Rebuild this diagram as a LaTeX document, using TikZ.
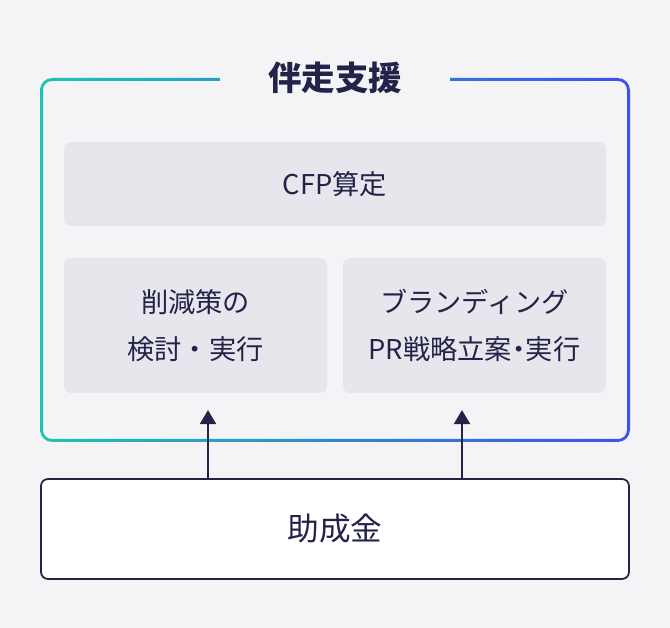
\documentclass[tikz,border=0pt]{standalone}
\usepackage{fontspec}
\setmainfont{Noto Sans CJK JP}
\usetikzlibrary{positioning,arrows.meta}
\definecolor{pagebg}{HTML}{F4F4F6}
\definecolor{boxbg}{HTML}{E6E6EC}
\definecolor{ink}{HTML}{23234A}
\definecolor{tealc}{HTML}{1DC3B0}
\definecolor{bluec}{HTML}{3F4FF0}
\tikzset{
  stage/.style={fill=boxbg, rounded corners=4pt, text=ink, font=\fontsize{15.5}{27}\selectfont, align=center},
  fund/.style={draw=ink, line width=1pt, fill=white, rounded corners=4pt, text=ink, font=\fontsize{18}{20}\selectfont},
  up/.style={-{Triangle[length=8pt,width=9pt]}, ink, line width=1.5pt}
}
\begin{document}
\begin{tikzpicture}[x=0.02cm, y=-0.02cm]
    \fill[pagebg] (0,0) rectangle (670,628);

    % gradient frame
    \shade[left color=tealc, right color=bluec, even odd rule]
        [rounded corners=7pt] (40,78) rectangle (630,442)
        [rounded corners=5pt] (43,81) rectangle (627,439);
    \fill[pagebg] (220,70) rectangle (450,90);
    \node[text=ink, font=\bfseries\fontsize{19}{21}\selectfont] (title) at (335,78) {伴走支援};

    % stages
    \node[stage, minimum width=542*0.02cm, minimum height=84*0.02cm] (cfp) at (335,184) {CFP算定};
    \node[stage, minimum width=263*0.02cm, minimum height=135*0.02cm] (cut) at (195.5,325.5) {削減策の\\検討・実行};
    \node[stage, minimum width=263*0.02cm, minimum height=135*0.02cm] (pr) at (474.5,325.5) {ブランディング\\PR戦略立案\kern-0.25em・\kern-0.25em実行};

    % funding
    \node[fund, minimum width=588*0.02cm, minimum height=100*0.02cm] (fund) at (335,529) {助成金};
    \coordinate (cutin) at (208,410);
    \coordinate (prin) at (462,410);
    \draw[up] (fund.north -| cutin) -- (cutin);
    \draw[up] (fund.north -| prin) -- (prin);
\end{tikzpicture}
\end{document}
